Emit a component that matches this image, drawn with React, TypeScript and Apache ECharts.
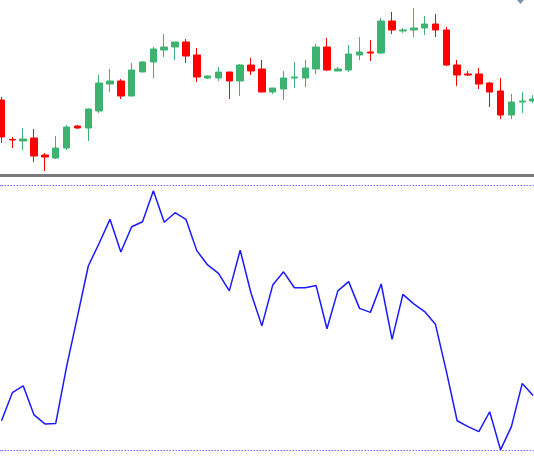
import React, { useEffect, useRef } from "react";
import * as echarts from "echarts";

const categories: string[] = Array.from({ length: 50 }, (_, i) => String(i + 1));

const opens = [80, 40.5, 39, 42, 25, 22, 32, 54, 52, 69, 96, 99, 84, 108, 118, 130, 133, 138, 125, 102, 102, 108, 99, 115, 111, 88, 91, 102, 102, 111, 133, 109, 110, 125, 128, 127, 159, 149, 150, 152, 156, 150, 115, 106, 106, 97, 89, 65, 78, 79];
const closes = [43, 40, 41, 24, 23, 32, 53, 52, 71, 97, 99, 84, 110, 118, 131, 133, 138, 124, 103, 104, 108, 99, 115, 109, 88, 92, 102, 103, 112, 133, 110, 111, 126, 128, 127, 159, 150, 150, 152, 156, 150, 115, 105, 105, 96, 88, 65, 78, 79, 81];
const lows = [37, 32, 30, 18, 9, 21, 30, 51, 39, 67, 88, 81, 84, 108, 102, 123, 120, 117, 98, 101, 99, 81, 84, 105, 88, 86, 80, 92, 93, 106, 109, 109, 108, 120, 119, 126, 146, 147, 143, 145, 143, 114, 94, 104, 91, 73, 61, 61, 67, 77];
const highs = [83, 43, 52, 51, 27, 44, 55, 55, 71.5, 105, 111, 101, 117, 119, 133, 146, 138, 141, 132, 104.5, 113, 108, 116, 122, 120, 92, 109, 118, 120, 136, 142, 113, 135, 143, 140, 162, 168, 152, 172, 164, 166, 153, 120, 109, 112, 98, 102, 86, 88, 85];

const oscillator = [11.3, 21.9, 24.5, 13.5, 10.1, 10.3, 31.7, 50.6, 69.7, 78.3, 87.3, 75.0, 84.5, 86.4, 98.1, 86.2, 89.8, 87.3, 75.5, 70.1, 66.9, 60.3, 75.7, 59.4, 47.1, 62.5, 67.5, 61.5, 61.5, 62.3, 46.0, 60.3, 63.8, 53.7, 52.2, 62.9, 42.0, 59.0, 55.4, 52.5, 47.7, 30.0, 11.3, 9.1, 7.2, 14.7, 0.3, 9.1, 25.4, 20.8];

const levels = [0, 100];

export default function App() {
  const ref = useRef<HTMLDivElement>(null);
  useEffect(() => {
    if (!ref.current) return;
    const chart = echarts.init(ref.current, undefined, { renderer: "svg" });
    const candleData = opens.map((o, i) => [o, closes[i], lows[i], highs[i]]);
    chart.setOption({
      animation: false,
      backgroundColor: "#ffffff",
      grid: [
        { left: 1.5, width: 531.6, top: 0, height: 173 },
        { left: 1.5, width: 531.6, top: 185.7, height: 265 },
      ],
      xAxis: [
        { type: "category", data: categories, gridIndex: 0, show: false, boundaryGap: false },
        { type: "category", data: categories, gridIndex: 1, show: false, boundaryGap: false },
      ],
      yAxis: [
        { type: "value", gridIndex: 0, min: 7, max: 180, show: false, splitLine: { show: false } },
        { type: "value", gridIndex: 1, min: 0, max: 100, show: false, splitLine: { show: false } },
      ],
      series: [
        {
          type: "candlestick",
          xAxisIndex: 0,
          yAxisIndex: 0,
          data: candleData,
          barWidth: 7,
          clip: false,
          itemStyle: {
            color: "#3cb371",
            color0: "#ff0000",
            borderColor: "#3cb371",
            borderColor0: "#ff0000",
            borderWidth: 1,
          },
        },
        {
          type: "line",
          xAxisIndex: 1,
          yAxisIndex: 1,
          data: oscillator,
          showSymbol: false,
          symbol: "none",
          clip: false,
          lineStyle: { color: "#1a1aff", width: 1.5 },
          markLine: {
            silent: true,
            symbol: "none",
            label: { show: false },
            lineStyle: { color: "#6b6bff", type: [1.5, 1.5], width: 1 },
            data: levels.map((v) => ({ yAxis: v })),
          },
        },
      ],
      graphic: [
        {
          type: "rect",
          shape: { x: 0, y: 174, width: 534, height: 3 },
          style: { fill: "#7a7a7a" },
        },
        {
          type: "line",
          shape: { x1: 0, y1: 185.7, x2: 1.5, y2: 185.7 },
          style: { stroke: "#6b6bff", lineWidth: 1, lineDash: [1.5, 1.5] },
        },
        {
          type: "line",
          shape: { x1: 0, y1: 450.7, x2: 1.5, y2: 450.7 },
          style: { stroke: "#6b6bff", lineWidth: 1, lineDash: [1.5, 1.5] },
        },
        {
          type: "line",
          shape: { x1: 533.1, y1: 185.7, x2: 534, y2: 185.7 },
          style: { stroke: "#6b6bff", lineWidth: 1, lineDash: [1.5, 1.5] },
        },
        {
          type: "line",
          shape: { x1: 533.1, y1: 450.7, x2: 534, y2: 450.7 },
          style: { stroke: "#6b6bff", lineWidth: 1, lineDash: [1.5, 1.5] },
        },
        {
          type: "polygon",
          shape: { points: [[517, 0], [524, 0], [520.5, 4]] },
          style: { fill: "#8090b0" },
        },
      ],
    });
    return () => chart.dispose();
  }, []);
  return (
    <div
      ref={ref}
      style={{ position: "fixed", left: 0, top: 0, width: 534, height: 462, background: "#fff" }}
    />
  );
}
